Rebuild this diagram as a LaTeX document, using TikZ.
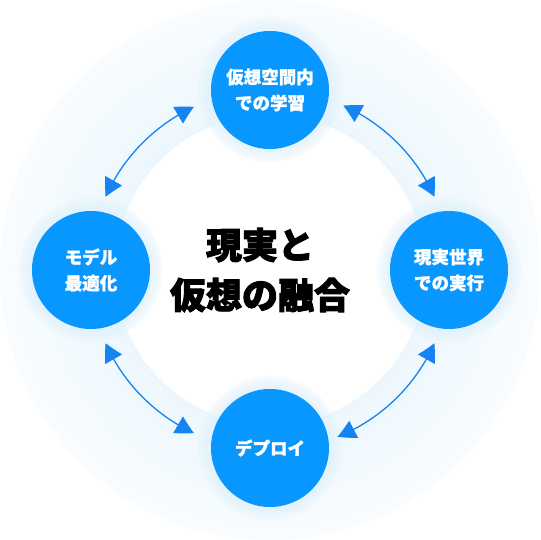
\documentclass[tikz,border=0pt]{standalone}
\usepackage{fontspec}
\newfontfamily\cjk{Noto Sans CJK JP}[BoldFeatures={FakeBold=1.4}]
\newfontfamily\cjkheavy{Noto Sans CJK JP}[BoldFeatures={FakeBold=2.6}]
\usetikzlibrary{arrows.meta,bending}
\definecolor{cblue}{RGB}{8,150,255}
\definecolor{ablue}{RGB}{22,132,240}
\definecolor{ringc}{RGB}{222,241,252}
\begin{document}
\begin{tikzpicture}[x=1pt,y=1pt,
  bub/.style={circle,fill=cblue,minimum size=118pt,inner sep=0pt,text=white,align=center,
    font=\cjk\bfseries\fontsize{17.5}{26}\selectfont},
  halo/.style={fill=ringc,opacity=0.22},
  arr/.style={ablue,line width=1.3pt,
    {Triangle[length=18pt,width=19pt,bend]}-{Triangle[length=18pt,width=19pt,bend]}},
  midtext/.style={align=center,text=black,font=\cjkheavy\bfseries\fontsize{36}{50}\selectfont}]
\useasboundingbox (-270,-270) rectangle (270,270);
\fill[white] (-270,-270) rectangle (270,270);
% background ring
\foreach \r in {270,266,...,154} {
  \pgfmathsetmacro\t{20+38*(270-\r)/116}
  \fill[ringc!\t] (0,0) circle[radius=\r];
}
\fill[white] (0,0) circle[radius=155];
% halos
\foreach \p in {(0,180),(-179,0),(179,0),(0,-178)} {
  \foreach \r in {72,69,66,63} {
    \fill[halo] \p circle[radius=\r];
  }
}
% arrows
\coordinate (l1) at (115:180); \coordinate (l2) at (156:180);
\coordinate (r1) at (66:180);  \coordinate (r2) at (24:180);
\coordinate (b1) at (204:180); \coordinate (b2) at (245:180);
\coordinate (c1) at (336:180); \coordinate (c2) at (292:180);
\draw[arr] (l1) arc[start angle=115,end angle=156,radius=180];
\draw[arr] (r1) arc[start angle=66,end angle=24,radius=180];
\draw[arr] (b1) arc[start angle=204,end angle=245,radius=180];
\draw[arr] (c1) arc[start angle=336,end angle=292,radius=180];
% circles
\node[bub] (top) at (0,180) {仮想空間内\\での学習};
\node[bub] (left) at (-179,0) {モデル\\最適化};
\node[bub] (right) at (179,0) {現実世界\\での実行};
\node[bub] (bottom) at (0,-178) {デプロイ};
\node[midtext] (mid) at (-10,0) {現実と\\仮想の融合};
\end{tikzpicture}
\end{document}
